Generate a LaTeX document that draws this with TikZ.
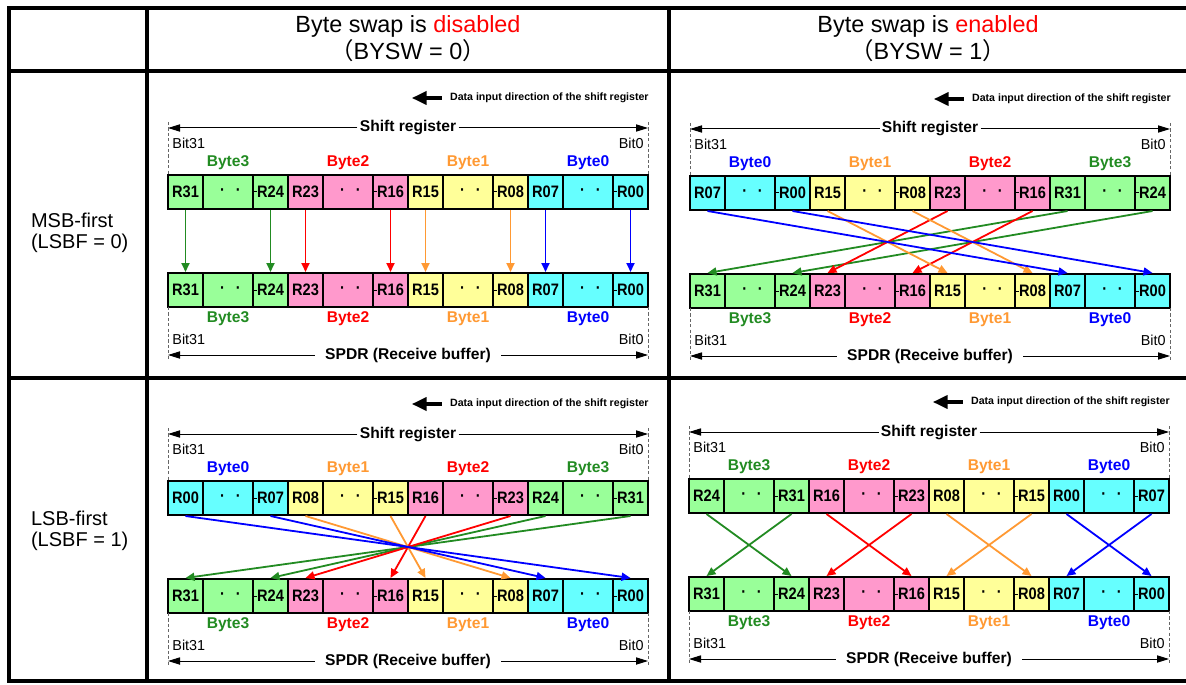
\documentclass[tikz,border=0pt]{standalone}
\usepackage{fontspec}
\setmainfont{Liberation Sans}
\newfontfamily\cjk{Noto Sans CJK SC}
\newfontfamily\cellfont[FakeStretch=0.88]{Liberation Sans}
\usetikzlibrary{positioning,arrows.meta}

\definecolor{gfill}{HTML}{99FF99}
\definecolor{pfill}{HTML}{FF99CC}
\definecolor{yfill}{HTML}{FFFF99}
\definecolor{cfill}{HTML}{66FFFF}
\definecolor{bthree}{HTML}{228B22}
\definecolor{btwo}{HTML}{FF0000}
\definecolor{bone}{HTML}{FF9933}
\definecolor{bzero}{HTML}{0000FF}

\newcommand\dotpair{\hspace*{2.5pt}\textperiodcentered\hspace*{5.4pt}\textperiodcentered}

% one register row: name, left x, top y, bytes, y of the byte labels
\newcommand\regrow[5]{%
  \foreach \hi/\lo/\fcol/\tcol/\byte [count=\n from 0] in {#4}{
    \node[cell, fill=\fcol] (#1-\hi) at ({#2+120*\n+17.5},{#3+17}) {\hi};
    \node[cell, dots, fill=\fcol] (#1-\hi-dots) at ({#2+120*\n+60},{#3+17}) {\dotpair};
    \node[cell, fill=\fcol] (#1-\lo) at ({#2+120*\n+102.5},{#3+17}) {\lo};
    \draw[tick] (#1-\lo.west) -- ++(2.5pt,0);
    \node[bytelabel, text=\tcol] (#1-\byte) at ({#2+120*\n+60},{#5}) {\byte};
  }%
}

% one panel: name, left x, top y of the shift register, its bytes
\newcommand\panel[4]{%
  % Data input direction
  \node[dirlabel, anchor=east] (#1-dir) at ({#2+481},{#3-77}) {Data input direction of the shift register};
  \coordinate[left=4pt of #1-dir] (#1-dira);
  \coordinate[left=19pt of #1-dir] (#1-dirb);
  \draw[dirarrow] (#1-dira) -- (#1-dirb);
  % Shift register
  \coordinate (#1-sl) at (#2,{#3-47});
  \coordinate (#1-sr) at ({#2+480},{#3-47});
  \node[dimlabel] (#1-shift) at ({#2+240},{#3-47}) {Shift register};
  \draw[dimline] (#1-shift) -- (#1-sl);
  \draw[dimline] (#1-shift) -- (#1-sr);
  \draw[guide] (#2,{#3-53}) -- (#2,#3);
  \draw[guide] ({#2+480},{#3-53}) -- ({#2+480},#3);
  \node[bitlabel, anchor=west] (#1-uhi) at ({#2+4},{#3-32}) {Bit31};
  \node[bitlabel, anchor=east] (#1-ulo) at ({#2+476},{#3-32}) {Bit0};
  \regrow{#1-up}{#2}{#3}{#4}{#3-12}
  % SPDR (Receive buffer)
  \regrow{#1-lo}{#2}{#3+98}{R31/R24/gfill/bthree/Byte3, R23/R16/pfill/btwo/Byte2,
    R15/R08/yfill/bone/Byte1, R07/R00/cfill/bzero/Byte0}{#3+144}
  \node[bitlabel, anchor=west] (#1-lhi) at ({#2+4},{#3+164}) {Bit31};
  \node[bitlabel, anchor=east] (#1-llo) at ({#2+476},{#3+164}) {Bit0};
  \coordinate (#1-bl) at (#2,{#3+180});
  \coordinate (#1-br) at ({#2+480},{#3+180});
  \node[dimlabel, inner xsep=5pt] (#1-spdr) at ({#2+240},{#3+180}) {SPDR (Receive buffer)};
  \draw[dimline] (#1-spdr) -- (#1-bl);
  \draw[dimline] (#1-spdr) -- (#1-br);
  \draw[guide] (#2,{#3+132}) -- (#2,{#3+185});
  \draw[guide] ({#2+480},{#3+132}) -- ({#2+480},{#3+185});
  % transfer
  \foreach \reg/\acol in {R31/bthree, R24/bthree, R23/btwo, R16/btwo, R15/bone, R08/bone, R07/bzero, R00/bzero}
    \draw[flow, color=\acol] (#1-up-\reg.south) -- (#1-lo-\reg.north);
}

\begin{document}
\begin{tikzpicture}[x=0.5pt, y=-0.5pt,
    tableline/.style={line width=2pt},
    head/.style={align=center, font=\fontsize{11.7pt}{13.5pt}\selectfont},
    rowlabel/.style={align=left, anchor=west, font=\fontsize{10pt}{10.5pt}\selectfont},
    cell/.style={draw, line width=1pt, minimum width=17.5pt, minimum height=17pt, inner sep=0pt,
      font=\cellfont\bfseries\fontsize{8.3pt}{9pt}\selectfont},
    dots/.style={minimum width=25pt},
    tick/.style={line width=0.5pt},
    bytelabel/.style={inner sep=0pt, font=\bfseries\fontsize{7.8pt}{8pt}\selectfont},
    bitlabel/.style={inner sep=0pt, font=\fontsize{7.2pt}{8pt}\selectfont},
    dimlabel/.style={inner ysep=0pt, inner xsep=1pt, font=\bfseries\fontsize{7.8pt}{8pt}\selectfont},
    dimline/.style={line width=0.5pt, -{Triangle[length=6pt,width=3.6pt]}},
    guide/.style={line width=0.4pt, gray!80!black, dash pattern=on 1.6pt off 1.1pt},
    flow/.style={line width=0.9pt, -{Triangle[length=4.5pt,width=4pt]}},
    dirlabel/.style={inner sep=0pt, font=\bfseries\fontsize{5.3pt}{6pt}\selectfont},
    dirarrow/.style={line width=2pt, -{Triangle[length=7.5pt,width=6.5pt]}}
]
\useasboundingbox (0,0) rectangle (1186,684);

% Table
\draw[tableline] (9,8) rectangle (1196,681);
\draw[tableline] (9,71) -- (1196,71);
\draw[tableline] (9,378) -- (1196,378);
\draw[tableline] (147,8) -- (147,681);
\draw[tableline] (669,8) -- (669,681);

% Headers
\node[head] (hdis) at (408,38.5) {Byte swap is \textcolor{red}{disabled}\\{\cjk （}BYSW = 0{\cjk ）}};
\node[head] (hena) at (928,38.5) {Byte swap is \textcolor{red}{enabled}\\{\cjk （}BYSW = 1{\cjk ）}};
\node[rowlabel] (rmsb) at (24,232.5) {MSB-first\\(LSBF = 0)};
\node[rowlabel] (rlsb) at (24,531) {LSB-first\\(LSBF = 1)};

% MSB-first, no swap
\panel{tl}{168}{175}{R31/R24/gfill/bthree/Byte3, R23/R16/pfill/btwo/Byte2,
  R15/R08/yfill/bone/Byte1, R07/R00/cfill/bzero/Byte0}
% MSB-first, swap
\panel{tr}{690}{176}{R07/R00/cfill/bzero/Byte0, R15/R08/yfill/bone/Byte1,
  R23/R16/pfill/btwo/Byte2, R31/R24/gfill/bthree/Byte3}
% LSB-first, no swap
\panel{bl}{168}{481}{R00/R07/cfill/bzero/Byte0, R08/R15/yfill/bone/Byte1,
  R16/R23/pfill/btwo/Byte2, R24/R31/gfill/bthree/Byte3}
% LSB-first, swap
\panel{br}{689}{479}{R24/R31/gfill/bthree/Byte3, R16/R23/pfill/btwo/Byte2,
  R08/R15/yfill/bone/Byte1, R00/R07/cfill/bzero/Byte0}

\end{tikzpicture}
\end{document}
